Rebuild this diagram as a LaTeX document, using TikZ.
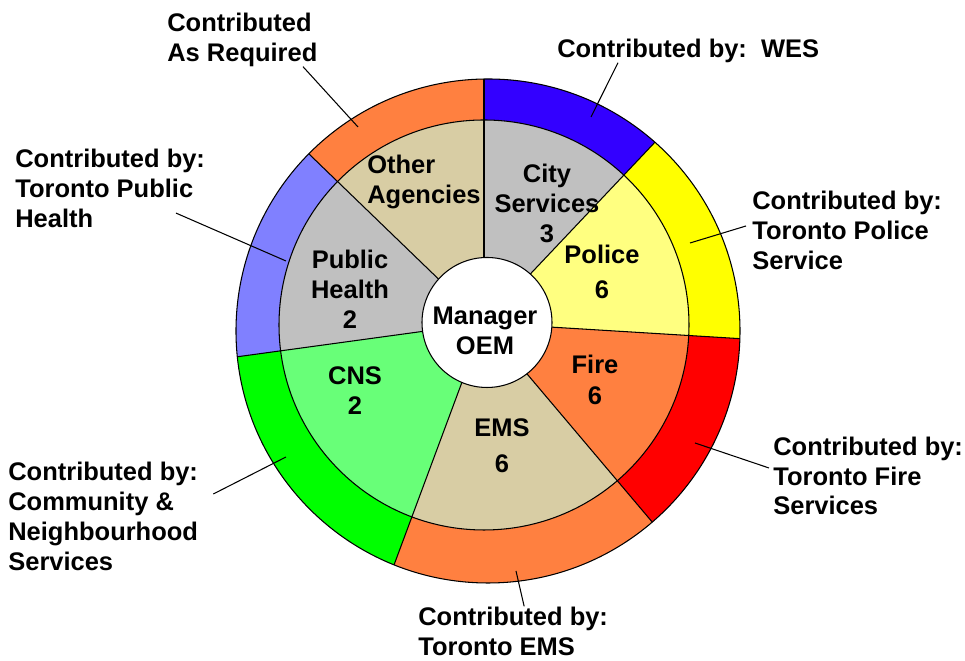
\documentclass[tikz,border=0pt]{standalone}
\usepackage{fontspec}
\setmainfont{Liberation Sans}
\usepackage{xcolor}

\definecolor{ringYellow}{RGB}{255,255,0}
\definecolor{ringBlue}{RGB}{51,0,255}
\definecolor{ringOrange}{RGB}{255,128,64}
\definecolor{ringRed}{RGB}{255,0,0}
\definecolor{ringGreen}{RGB}{0,255,0}
\definecolor{ringLilac}{RGB}{128,128,255}
\definecolor{pieYellow}{RGB}{255,255,128}
\definecolor{pieGray}{RGB}{192,192,192}
\definecolor{pieTan}{RGB}{216,205,164}
\definecolor{pieOrange}{RGB}{255,128,64}
\definecolor{pieGreen}{RGB}{104,255,120}

\begin{document}
\begin{tikzpicture}[x=0.02cm,y=0.02cm,
  lbl/.style={font=\fontsize{14.5}{17}\selectfont\bfseries,inner sep=0pt,align=left,anchor=west},
  pie/.style={font=\fontsize{14.5}{17}\selectfont\bfseries,inner sep=0pt,align=center},
  edge/.style={black,line width=0.6pt},
  lead/.style={black,line width=0.6pt}]
  \useasboundingbox (0,0) rectangle (965,661);
  \pgfmathsetmacro{\rRim}{252}
  \pgfmathsetmacro{\rMid}{205}
  \pgfmathsetmacro{\rCore}{65}

  \coordinate (hub)   at (484,338);
  \coordinate (rimC)  at (488,330);
  \coordinate (midC)  at (484,336);
  \coordinate (coreC) at (487,338.5);

  % outer ring
  \begin{scope}
    \clip (rimC) circle[radius=\rRim];
    \foreach \a/\b/\c in {-3.5/46.6/ringYellow, 46.6/90/ringBlue, 90/136/ringOrange,
        136/187.8/ringLilac, 187.8/249.6/ringGreen, 249.6/310.2/ringOrange, 310.2/356.5/ringRed}
      \fill[\c] (hub) -- ++(\a:320) arc[start angle=\a, end angle=\b, radius=320] -- cycle;
  \end{scope}

  % inner pie
  \begin{scope}
    \clip (midC) circle[radius=\rMid];
    \foreach \a/\b/\c in {-3.5/46.6/pieYellow, 46.6/90/pieGray, 90/136/pieTan,
        136/187.8/pieGray, 187.8/249.6/pieGreen, 249.6/310.2/pieTan, 310.2/356.5/pieOrange}
      \fill[\c] (hub) -- ++(\a:320) arc[start angle=\a, end angle=\b, radius=320] -- cycle;
  \end{scope}

  \begin{scope}
    \clip (rimC) circle[radius=\rRim];
    \foreach \a in {-3.5,46.6,90,136,187.8,249.6,310.2}
      \draw[edge] (hub) -- ++(\a:320);
  \end{scope}
  \draw[edge] (rimC) circle[radius=\rRim];
  \draw[edge] (midC) circle[radius=\rMid];
  \filldraw[edge,fill=white] (coreC) circle[radius=\rCore];

  % sector names
  \node[pie] (mgr)  at (485,330.5) {Manager\\OEM};
  \node[pie,align=left,anchor=west] (oth) at (367,479) {Other\\Agencies};
  \node[pie] (city) at (547,457.5) {City\\Services\\3};
  \node[pie] (pol)  at (602,389.5) {Police\\[3pt]6};
  \node[pie] (pub)  at (350,371.5) {Public\\Health\\2};
  \node[pie] (cns)  at (355,270) {CNS\\2};
  \node[pie] (ems)  at (502,215) {EMS\\[3.5pt]6};
  \node[pie] (fire) at (595,281) {Fire\\[1pt]6};

  % contributors
  \node[lbl] (lblReq) at (167,621.5) {Contributed\\As Required};
  \node[lbl] (lblTPH) at (15,472.5) {Contributed by:\\Toronto Public\\Health};
  \node[lbl] (lblWES) at (557,610.5) {Contributed by:~~WES};
  \node[lbl] (lblTPS) at (752,430.5) {Contributed by:\\Toronto Police\\Service};
  \node[lbl] (lblTFS) at (773,185) {Contributed by:\\Toronto Fire\\Services};
  \node[lbl] (lblEMS) at (418,30) {Contributed by:\\Toronto EMS};
  \node[lbl] (lblCNS) at (8,144.5) {Contributed by:\\Community \&\\Neighbourhood\\Services};

  \coordinate (tipReq) at (358,534);
  \coordinate (tipTPH) at (286,400);
  \coordinate (tipWES) at (591,544);
  \coordinate (tipTPS) at (690,418);
  \coordinate (tipTFS) at (695,218);
  \coordinate (tipEMS) at (516,90);
  \coordinate (tipCNS) at (286,204);

  \draw[lead] ([xshift=2.72cm]lblReq.south west) -- (tipReq);
  \draw[lead] ([xshift=3.22cm,yshift=0.3cm]lblTPH.south west) -- (tipTPH);
  \draw[lead] ([xshift=1.22cm]lblWES.south west) -- (tipWES);
  \draw[lead] ([shift={(-0.12cm,0.09cm)}]lblTPS.west) -- (tipTPS);
  \draw[lead] ([shift={(-0.08cm,0.16cm)}]lblTFS.west) -- (tipTFS);
  \draw[lead] ([xshift=0.22cm]lblEMS.north) -- (tipEMS);
  \draw[lead] ([shift={(0.3cm,0.45cm)}]lblCNS.east) -- (tipCNS);
\end{tikzpicture}
\end{document}
